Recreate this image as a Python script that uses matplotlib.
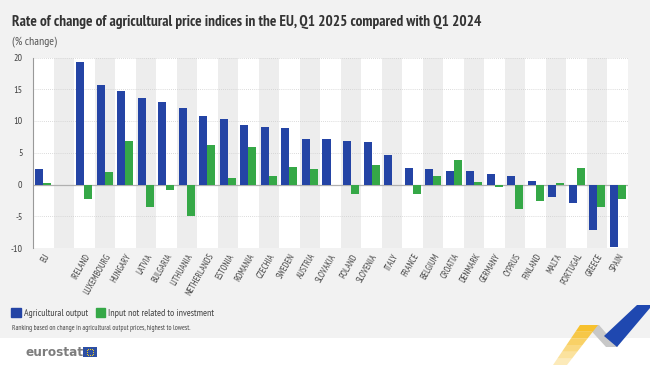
import matplotlib
matplotlib.use("Agg")
import matplotlib.pyplot as plt
import numpy as np
from matplotlib.patches import Polygon, Rectangle
import logging
logging.getLogger("matplotlib.font_manager").setLevel(logging.ERROR)

countries = ["EU", "", "IRELAND", "LUXEMBOURG", "HUNGARY", "LATVIA", "BULGARIA",
             "LITHUANIA", "NETHERLANDS", "ESTONIA", "ROMANIA", "CZECHIA", "SWEDEN",
             "AUSTRIA", "SLOVAKIA", "POLAND", "SLOVENIA", "ITALY", "FRANCE", "BELGIUM",
             "CROATIA", "DENMARK", "GERMANY", "CYPRUS", "FINLAND", "MALTA", "PORTUGAL",
             "GREECE", "SPAIN"]
agri_output = [2.5, np.nan, 19.3, 15.7, 14.7, 13.6, 13.0, 12.0, 10.8, 10.3, 9.3, 9.1,
               8.9, 7.2, 7.2, 6.9, 6.7, 4.6, 2.6, 2.4, 2.2, 2.1, 1.6, 1.4, 0.6, -2.0,
               -2.9, -7.2, -9.8]
input_nri = [0.3, np.nan, -2.3, 2.0, 6.9, -3.6, -0.9, -5.0, 6.2, 1.1, 5.9, 1.4, 2.8,
             2.4, np.nan, -1.5, 3.0, np.nan, -1.5, 1.3, 3.8, 0.45, -0.35, -3.8, -2.55,
             0.3, 2.6, -3.5, -2.3]
series_names = ["Agricultural output", "Input not related to investment"]
yticks = [-10, -5, 0, 5, 10, 15, 20]

BLUE = "#2444a5"
GREEN = "#35a847"
BG = "#f2f2f2"
NARROW = ["PT Sans Narrow", "Roboto Condensed", "Fira Sans Condensed", "Archivo Narrow",
          "Open Sans Condensed", "Liberation Sans Narrow", "DejaVu Sans"]

W, H = 650, 365
fig = plt.figure(figsize=(6.5, 3.65), dpi=100)
fig.patch.set_facecolor("white")
fig.patches.append(Rectangle((0, 1 - 338 / H), 1, 338 / H, transform=fig.transFigure,
                             facecolor=BG, edgecolor="none", zorder=-10))
renderer = fig.canvas.get_renderer()

def fit_size(s, target, **kw):
    t = fig.text(0, 0, s, fontsize=10, **kw)
    w = t.get_window_extent(renderer).width
    t.remove()
    return 10 * target / w

ax = fig.add_axes([33 / W, 1 - 248 / H, (628 - 33) / W, (248 - 57.5) / H])
ax.set_facecolor("white")
x = np.arange(len(countries))
for i in x:
    if i % 2 == 1:
        ax.axvspan(i - 0.5, i + 0.5, color="#ededed", zorder=0, lw=0)
bw = 0.39
ax.bar(x - bw / 2, agri_output, width=bw, color=BLUE, zorder=3, label=series_names[0])
ax.bar(x + bw / 2, input_nri, width=bw, color=GREEN, zorder=3, label=series_names[1])
ax.set_xlim(-0.5, len(countries) - 0.5)
ax.set_ylim(-10, 20)
ax.set_yticks(yticks)
ax.set_yticklabels([str(t) for t in yticks], family=NARROW, fontsize=7.2, color="#444444")
for t in yticks:
    if t != 0:
        ax.axhline(t, color="#cfcfcf", lw=0.6, ls=(0, (1, 1.5)), zorder=1)
ax.axhline(0, color="#b0b0b0", lw=0.9, zorder=2)
ax.set_xticks(x)
ax.set_xticklabels(countries, rotation=60, ha="right", rotation_mode="anchor",
                   family=NARROW, fontsize=6.4, color="#444444")
ax.tick_params(axis="both", length=0, pad=3)
ax.tick_params(axis="y", pad=7.5)
for s in ["top", "right", "bottom"]:
    ax.spines[s].set_visible(False)
ax.spines["left"].set_color("#999999")
ax.spines["left"].set_linewidth(0.8)

title_s = "Rate of change of agricultural price indices in the EU, Q1 2025 compared with Q1 2024"
fig.text(12 / W, 1 - 22 / H, title_s, family=NARROW,
         fontsize=fit_size(title_s, 473, family=NARROW, fontweight="bold"),
         fontweight="bold", color="#333333", va="center", ha="left")
fig.text(12 / W, 1 - 42 / H, "(% change)", family=NARROW,
         fontsize=fit_size("(% change)", 45, family=NARROW, style="italic"),
         style="italic", color="#555555", va="center", ha="left")

handles = [Rectangle((0, 0), 1, 1, color=BLUE), Rectangle((0, 0), 1, 1, color=GREEN)]
leg = fig.legend(handles, series_names, loc="center left", bbox_to_anchor=(11 / W, 1 - 313 / H),
                 ncol=2, frameon=False, prop={"family": NARROW, "size": 7.0},
                 handlelength=1.0, handleheight=1.0, handletextpad=0.3, columnspacing=0.8,
                 borderaxespad=0, borderpad=0)
for t in leg.get_texts():
    t.set_color("#444444")

foot_s = "Ranking based on change in agricultural output prices, highest to lowest."
fig.text(12 / W, 1 - 328 / H, foot_s, family=NARROW,
         fontsize=fit_size(foot_s, 181, family=NARROW, style="italic"),
         style="italic", color="#444444", va="center", ha="left")

# eurostat logo
fig.text(26 / W, 1 - 352 / H, "eurostat", family="DejaVu Sans", fontsize=8.7, fontweight="bold",
         color="#7d7d7d", va="center", ha="left")
fig.patches.append(Rectangle((83 / W, 1 - 357 / H), 14 / W, 10 / H, transform=fig.transFigure,
                             facecolor="#2d4fa3", edgecolor="none"))
ang = np.linspace(0, 2 * np.pi, 12, endpoint=False)
fig.add_artist(plt.Line2D((90 + 3.2 * np.cos(ang)) / W, (1 - 352 / H) + 3.2 * np.sin(ang) / H,
                          transform=fig.transFigure, ls="none", marker="o", ms=0.8,
                          color="#ffd617", mec="none"))

def poly(pts, color, alpha=1.0):
    fig.patches.append(Polygon([(px / W, 1 - py / H) for px, py in pts], closed=True,
                               transform=fig.transFigure, facecolor=color, edgecolor="none",
                               alpha=alpha))
poly([(586, 325), (599, 325), (618, 347), (606, 347)], "#c8c8c8")
poly([(637, 305), (650, 305), (650, 308), (617, 347), (604, 336)], "#1f48b0")
steps = 6
for k in range(steps):
    f0, f1 = k / steps, (k + 1) / steps
    xa0, xb0 = 580 + (553 - 580) * f0, 598 + (567 - 598) * f0
    xa1, xb1 = 580 + (553 - 580) * f1, 598 + (567 - 598) * f1
    y0, y1 = 325 + 40 * f0, 325 + 40 * f1
    poly([(xa0, y0), (xb0, y0), (xb1, y1), (xa1, y1)], "#f7c12e", alpha=1 - 0.8 * f0)

fig.savefig("out.png", dpi=100, facecolor=fig.get_facecolor())
